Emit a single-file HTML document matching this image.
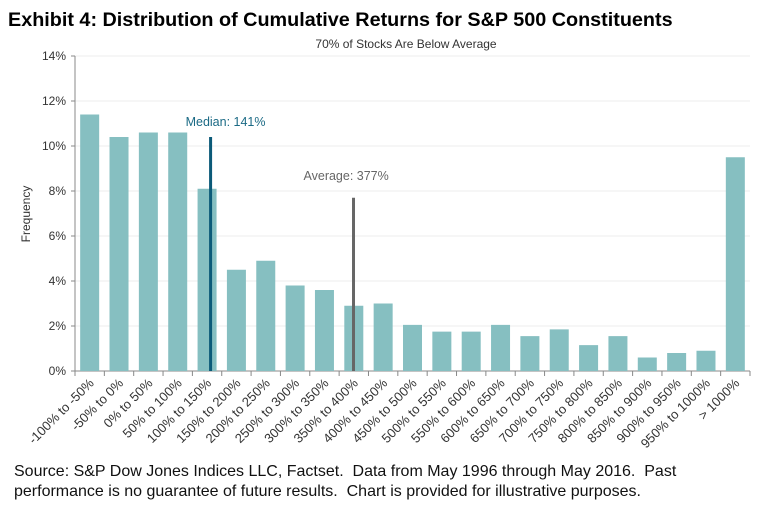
<!DOCTYPE html>
<html><head><meta charset="utf-8"><style>
body{margin:0;background:#fff;width:761px;height:508px;overflow:hidden;font-family:"Liberation Sans",Arial,sans-serif}
text{white-space:pre}
</style></head><body>
<svg id="c" width="761" height="508" style="position:absolute;left:0;top:0">
<text x="8" y="26" font-size="19.8" font-weight="bold" fill="#000">Exhibit 4: Distribution of Cumulative Returns for S&amp;P 500 Constituents</text>
<text x="406" y="48" font-size="12" fill="#333" text-anchor="middle">70% of Stocks Are Below Average</text>
<text transform="translate(30,214) rotate(-90)" font-size="12" fill="#333" text-anchor="middle">Frequency</text>
<text x="14" y="476" font-size="16" fill="#111" xml:space="preserve">Source: S&amp;P Dow Jones Indices LLC, Factset.  Data from May 1996 through May 2016.  Past</text>
<text x="14" y="496" font-size="16" fill="#111" xml:space="preserve">performance is no guarantee of future results.  Chart is provided for illustrative purposes.</text>
<g id="grid"></g><g id="bars"></g><g id="axes"></g><g id="marks"></g>
</svg>
<script>
const categories=["-100% to -50%","-50% to 0%","0% to 50%","50% to 100%","100% to 150%","150% to 200%","200% to 250%","250% to 300%","300% to 350%","350% to 400%","400% to 450%","450% to 500%","500% to 550%","550% to 600%","600% to 650%","650% to 700%","700% to 750%","750% to 800%","800% to 850%","850% to 900%","900% to 950%","950% to 1000%","> 1000%"];
const frequency=[11.4,10.4,10.6,10.6,8.1,4.5,4.9,3.8,3.6,2.9,3.0,2.05,1.75,1.75,2.05,1.55,1.85,1.15,1.55,0.6,0.8,0.9,9.5];
const yTicks=[0,2,4,6,8,10,12,14];
const medianValue=141, medianHeight=10.4;
const averageValue=377, averageHeight=7.7;
const NS="http://www.w3.org/2000/svg";
const x0=75,x1=750,yb=371,yt=56,ymax=14;
const bw=(x1-x0)/categories.length;
function y(v){return yb-(v/ymax)*(yb-yt);}
function xc(i){return x0+bw*(i+0.5);}
function xr(r){return x0+bw*((r+100)/50);}
function mk(t,a,p){const e=document.createElementNS(NS,t);for(const k in a)e.setAttribute(k,a[k]);p.appendChild(e);return e;}
const G=document.getElementById('grid'),B=document.getElementById('bars'),A=document.getElementById('axes'),M=document.getElementById('marks');
yTicks.forEach(v=>{
 const l=mk('line',{x1:x0,x2:x1,y1:y(v),y2:y(v),stroke:v===0?'#888':'#ececec','stroke-width':1},G);
 
 
 mk('line',{x1:x0-4,x2:x0,y1:y(v),y2:y(v),stroke:'#888'},A);
 const t=mk('text',{x:x0-9,y:y(v)+4,'font-size':12,fill:'#333','text-anchor':'end'},A);t.textContent=v+'%';
 
 
});
mk('line',{x1:x0,x2:x0,y1:yt,y2:yb,stroke:'#888'},A);
categories.forEach((c,i)=>{
 const r=mk('rect',{x:xc(i)-9.5,y:y(frequency[i]),width:19,height:yb-y(frequency[i]),fill:'#86bfc1'},B);
 
 
 mk('line',{x1:x0+bw*i,x2:x0+bw*i,y1:yb,y2:yb+5,stroke:'#888'},A);
 const t=mk('text',{transform:`translate(${xc(i)+5},${yb+13}) rotate(-45)`,'font-size':13,fill:'#333','text-anchor':'end'},A);
 t.textContent=c;
 
 
});
mk('line',{x1:x1,x2:x1,y1:yb,y2:yb+5,stroke:'#888'},A);
const mx=xr(medianValue)-bw*0.2;
const ml=mk('line',{x1:mx,x2:mx,y1:y(medianHeight),y2:yb,stroke:'#0b5a78','stroke-width':3},M);


const mt=mk('text',{x:mx-25,y:y(medianHeight)-11,'font-size':12.5,fill:'#1b6a85'},M);mt.textContent='Median: '+medianValue+'%';


const ax=xr(averageValue)-bw*0.05;
const al=mk('line',{x1:ax,x2:ax,y1:y(averageHeight),y2:yb,stroke:'#666','stroke-width':3},M);


const at=mk('text',{x:ax-50,y:y(averageHeight)-18,'font-size':12.5,fill:'#666'},M);at.textContent='Average: '+averageValue+'%';


</script>
</body></html>
